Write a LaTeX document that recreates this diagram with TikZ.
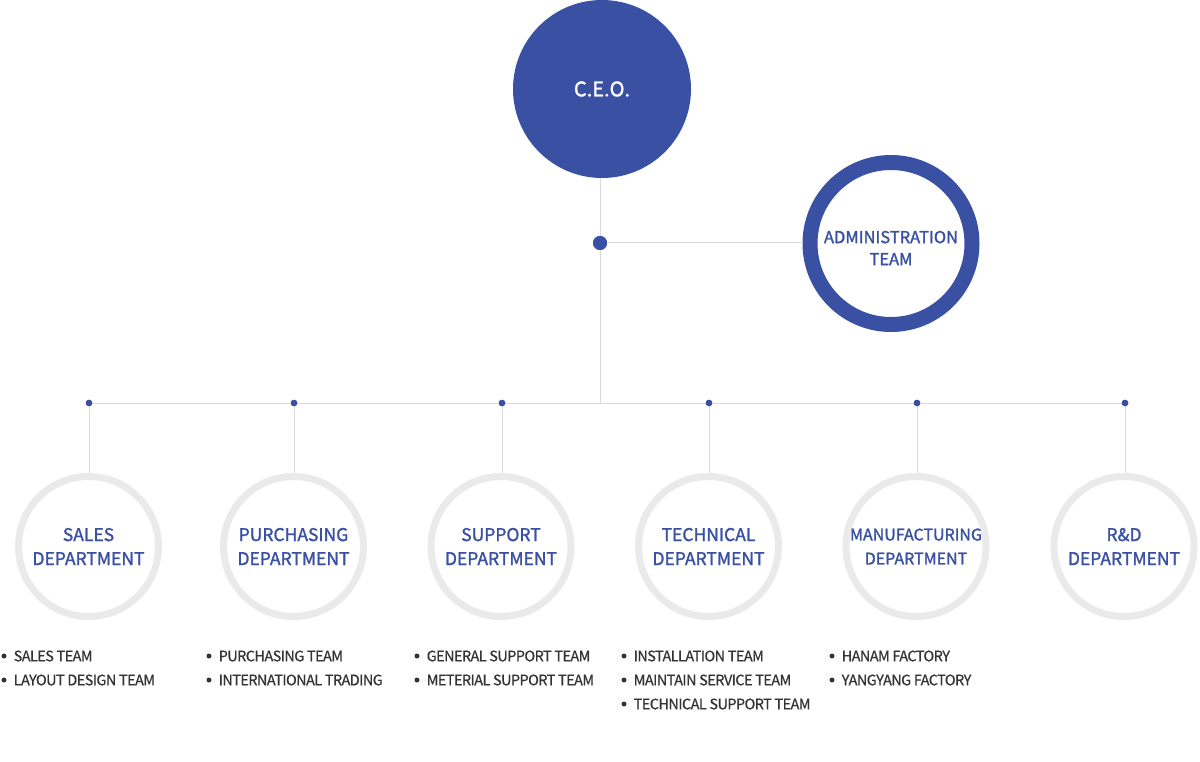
\documentclass[tikz,border=0pt]{standalone}
\usepackage{fontspec}
\setmainfont{Noto Sans CJK KR}
\newfontfamily\medfont{Noto Sans CJK KR}[FakeBold=1.5]
\newfontfamily\itemfont{Noto Sans CJK KR}[FakeBold=0.5,LetterSpace=-4]
\definecolor{navy}{HTML}{3A51A3}
\definecolor{linegray}{HTML}{DADADA}
\definecolor{ringgray}{HTML}{EAEAEA}
\definecolor{txtgray}{HTML}{333333}
\begin{document}
\begin{tikzpicture}[x=1pt,y=-1pt,
  conn/.style={draw=linegray,line width=1pt},
  ceobox/.style={circle,fill=navy,minimum size=178pt,inner sep=0pt,text=white,font=\medfont\fontsize{20}{24}\selectfont},
  adminbox/.style={circle,draw=navy,line width=15pt,fill=white,minimum size=162pt,inner sep=0pt},
  labeltxt/.style={text=navy,align=center,inner sep=0pt,font=\medfont\fontsize{16.5}{22}\selectfont},
  deptbox/.style={circle,draw=ringgray,line width=7pt,fill=white,minimum size=140pt,inner sep=0pt,text=navy,align=center,font=\medfont\fontsize{17.5}{24}\selectfont},
  bigdot/.style={circle,fill=navy,minimum size=14pt,inner sep=0pt},
  smalldot/.style={circle,fill=navy,minimum size=6.5pt,inner sep=0pt},
  bul/.style={circle,fill=txtgray,minimum size=5pt,inner sep=0pt},
  item/.style={anchor=west,inner sep=0pt,text=txtgray,font=\itemfont\fontsize{14.5}{18}\selectfont}
]
\useasboundingbox (0,0) rectangle (1200,762);
\fill[white] (0,0) rectangle (1200,762);

\node[ceobox] (ceo) at (602,89) {C.E.O.};
\node[bigdot] (hub) at (600,243) {};
\node[adminbox] (admin) at (891,243.5) {};
\node[labeltxt] (admintxt) at (891,248) {ADMINISTRATION\\TEAM};
\coordinate (join) at (600,403);

\draw[conn] (hub |- ceo.south) -- (hub);
\draw[conn] (hub) -- (hub -| admin.west);
\draw[conn] (hub) -- (join);

\foreach \i/\x in {1/89,2/294,3/502,4/709,5/917,6/1125}{
  \node[smalldot] (d\i) at (\x,403) {};
}
\draw[conn] (d1) -- (d2) -- (d3) -- (d4) -- (d5) -- (d6);

\node[deptbox] (dep1) at (88.5,546.5) {SALES\\DEPARTMENT};
\node[deptbox] (dep2) at (293.5,546.5) {PURCHASING\\DEPARTMENT};
\node[deptbox] (dep3) at (501,546.5) {SUPPORT\\DEPARTMENT};
\node[deptbox] (dep4) at (708.5,546.5) {TECHNICAL\\DEPARTMENT};
\node[deptbox,font=\medfont\fontsize{16}{24}\selectfont] (dep5) at (916,546.5) {MANUFACTURING\\DEPARTMENT};
\node[deptbox] (dep6) at (1124,546.5) {R\&D\\DEPARTMENT};

\foreach \i in {1,...,6}{
  \draw[conn] (d\i) -- (d\i |- dep\i.north);
}
\foreach \i in {1,...,6}{
  \node[smalldot] at (d\i) {};
}
\node[bigdot] at (hub) {};

% bullet lists
\foreach \c/\x/\lst in {
  a/4/{SALES TEAM,LAYOUT DESIGN TEAM},
  b/209/{PURCHASING TEAM,INTERNATIONAL TRADING},
  c/417/{GENERAL SUPPORT TEAM,METERIAL SUPPORT TEAM},
  d/624/{INSTALLATION TEAM,MAINTAIN SERVICE TEAM,TECHNICAL SUPPORT TEAM},
  e/832/{HANAM FACTORY,YANGYANG FACTORY}}{
  \foreach \t [count=\k] in \lst {
    \node[bul] (b\c\k) at (\x,{632+24*\k}) {};
    \node[item] (t\c\k) at ([xshift=9.5pt]b\c\k.center) {\t};
  }
}
\end{tikzpicture}
\end{document}
